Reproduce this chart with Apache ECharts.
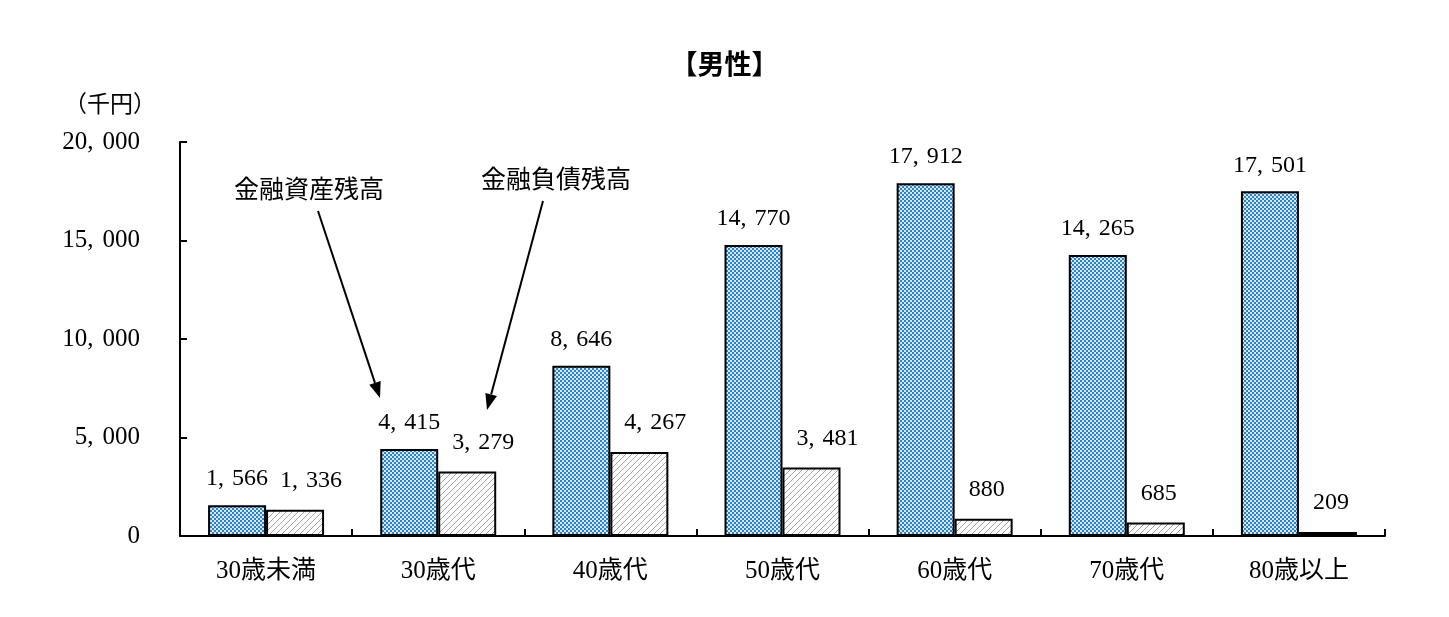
<!DOCTYPE html>
<html><head><meta charset="utf-8">
<script src="https://cdn.jsdelivr.net/npm/echarts@6/dist/echarts.min.js"></script>
<style>html,body{margin:0;padding:0;background:#fff}#c{width:1449px;height:617px}</style>
</head><body><div id="c"></div>
<script>
const categories = ['30歳未満','30歳代','40歳代','50歳代','60歳代','70歳代','80歳以上'];
const assets = [1566, 4415, 8646, 14770, 17912, 14265, 17501];
const debts = [1336, 3279, 4267, 3481, 880, 685, 209];
const yTicks = [0, 5000, 10000, 15000, 20000];

const SERIF = '"Liberation Serif","Noto Sans CJK JP",serif';
const CJK = '"Liberation Serif","Noto Sans CJK JP",sans-serif';

function checker(){
  const c = document.createElement('canvas'); c.width = 4; c.height = 4;
  const g = c.getContext('2d');
  g.fillStyle = '#d2e8f6'; g.fillRect(0,0,4,4);
  g.fillStyle = '#2f82bd';
  g.fillRect(0,0,2,2); g.fillRect(2,2,2,2);
  return c;
}
function hatch(){
  const s = 6;
  const c = document.createElement('canvas'); c.width = s; c.height = s;
  const g = c.getContext('2d');
  g.fillStyle = '#ffffff'; g.fillRect(0,0,s,s);
  g.strokeStyle = '#a0a0a0'; g.lineWidth = 1;
  for (const o of [-s, 0, s]) { g.beginPath(); g.moveTo(o, s); g.lineTo(o + s, 0); g.stroke(); }
  return c;
}
// comma drawn as its own rich token so it gets the wide Mincho-like spacing after it
const fmt = v => v.toLocaleString('en-US').replace(/,/g, '{c|,}');

const chart = echarts.init(document.getElementById('c'), null, {renderer:'canvas'});

function arrow(x1,y1,x2,y2){
  const a = Math.atan2(y2-y1, x2-x1), L = 16, W = 6;
  const bx = x2 - L*Math.cos(a), by = y2 - L*Math.sin(a);
  const px = -Math.sin(a)*W, py = Math.cos(a)*W;
  return [
    {type:'line', shape:{x1:x1,y1:y1,x2:bx,y2:by}, style:{stroke:'#000', lineWidth:2}},
    {type:'polygon', shape:{points:[[x2,y2],[bx+px,by+py],[bx-px,by-py]]}, style:{fill:'#000'}}
  ];
}
const labelRich = {c:{padding:[0,8,0,0], fontFamily:SERIF, fontSize:24, color:'#000'}};
const axisRich = {c:{padding:[0,9,0,0], fontFamily:SERIF, fontSize:25, color:'#000'}};

chart.setOption({
  animation:false,
  title:{text:'【男性】', left:'center', top:45, textStyle:{fontFamily:'"Noto Sans CJK JP",sans-serif', fontSize:27, fontWeight:'bold', color:'#000'}},
  grid:{left:180, right:64, top:142, bottom:81},
  xAxis:{type:'category', data:categories,
    axisLine:{lineStyle:{color:'#000', width:2}},
    axisTick:{show:true, interval:0, inside:true, length:7, lineStyle:{color:'#000', width:2}},
    axisLabel:{fontFamily:CJK, fontSize:25, color:'#000', margin:23}},
  yAxis:{type:'value', min:0, max:20000, interval:5000,
    splitLine:{show:false},
    axisLine:{show:true, lineStyle:{color:'#000', width:2}},
    axisTick:{show:true, inside:true, length:7, lineStyle:{color:'#000', width:2}},
    axisLabel:{fontFamily:SERIF, fontSize:25, color:'#000', margin:40, formatter:v=>fmt(v), rich:axisRich}},
  series:[
    {name:'金融資産残高', type:'bar', data:assets, barWidth:58, barGap:'0%',
     itemStyle:{color:{image:checker(), repeat:'repeat'}, borderColor:'#000', borderWidth:2},
     label:{show:true, position:'top', distance:14, fontFamily:SERIF, fontSize:24, color:'#000', formatter:p=>fmt(p.value), rich:labelRich}},
    {name:'金融負債残高', type:'bar', data:debts, barWidth:58, barGap:'0%',
     itemStyle:{color:{image:hatch(), repeat:'repeat'}, borderColor:'#000', borderWidth:2},
     label:{show:true, position:'top', distance:17, align:'left', offset:[-15,0], fontFamily:SERIF, fontSize:24, color:'#000', formatter:p=>fmt(p.value), rich:labelRich}}
  ],
  graphic:[
    {type:'text', x:110, y:103, style:{text:'（千円）', font:'23px "Noto Sans CJK JP", sans-serif', fill:'#000', align:'center', verticalAlign:'middle'}},
    {type:'text', x:309, y:188, style:{text:'金融資産残高', font:'25px "Noto Sans CJK JP", sans-serif', fill:'#000', align:'center', verticalAlign:'middle'}},
    {type:'text', x:556, y:178, style:{text:'金融負債残高', font:'25px "Noto Sans CJK JP", sans-serif', fill:'#000', align:'center', verticalAlign:'middle'}},
    ...arrow(318,211,380,398),
    ...arrow(543,201,487,410)
  ]
});
</script></body></html>
